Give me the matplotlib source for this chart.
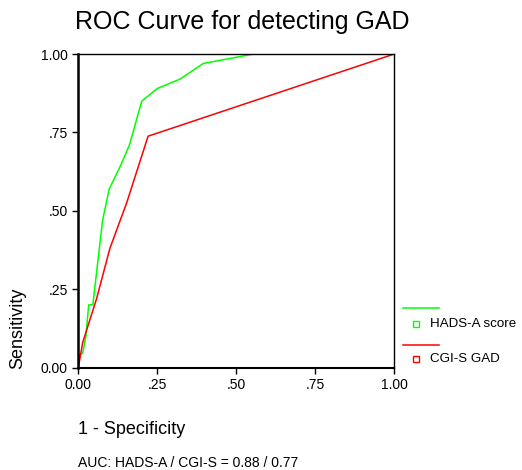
import matplotlib
matplotlib.use("Agg")
from matplotlib import pyplot as plt
from matplotlib.lines import Line2D

plt.rcParams["font.family"] = ["Liberation Sans", "DejaVu Sans"]

# ROC points
hads_fpr = [0.0, 0.003, 0.014, 0.024, 0.033, 0.046, 0.062, 0.077, 0.098,
            0.132, 0.162, 0.201, 0.250, 0.322, 0.396, 0.544, 0.56, 1.0]
hads_tpr = [0.0, 0.04, 0.046, 0.10, 0.20, 0.20, 0.34, 0.47, 0.57,
            0.64, 0.71, 0.85, 0.89, 0.92, 0.97, 0.998, 1.0, 1.0]
cgi_fpr = [0.0, 0.014, 0.058, 0.100, 0.153, 0.221, 1.0]
cgi_tpr = [0.0, 0.08, 0.22, 0.38, 0.525, 0.738, 1.0]

series_names = ["HADS-A score", "CGI-S GAD"]
series_colors = ["#00ff00", "#ff0000"]
tick_vals = [0.0, 0.25, 0.5, 0.75, 1.0]
tick_labels = ["0.00", ".25", ".50", ".75", "1.00"]
auc_text = "AUC: HADS-A / CGI-S = 0.88 / 0.77"

fig = plt.figure(figsize=(5.22, 4.70), dpi=100)
ax = fig.add_axes([0.150, 0.218, 0.605, 0.667])

ax.plot(hads_fpr, hads_tpr, color=series_colors[0], lw=1.1)
ax.plot(cgi_fpr, cgi_tpr, color=series_colors[1], lw=1.1)

ax.set_xlim(0, 1)
ax.set_ylim(0, 1)
ax.set_xticks(tick_vals)
ax.set_xticklabels(tick_labels)
ax.set_yticks(tick_vals)
ax.set_yticklabels(tick_labels)
ax.tick_params(direction="out", length=4, width=1, labelsize=10, colors="black")
for s in ax.spines.values():
    s.set_color("black")
    s.set_linewidth(1.0)
ax.spines["left"].set_linewidth(1.8)
ax.spines["bottom"].set_linewidth(1.5)

fig.text(75 / 522, 1 - 22 / 470, "ROC Curve for detecting GAD", fontsize=18,
         ha="left", va="center")
fig.text(18 / 522, 1 - 328 / 470, "Sensitivity", fontsize=13, rotation=90,
         ha="center", va="center")
fig.text(78 / 522, 1 - 429 / 470, "1 - Specificity", fontsize=13,
         ha="left", va="center")
fig.text(78 / 522, 1 - 463 / 470, auc_text, fontsize=10, ha="left", va="center")

# SPSS style legend: line on one row, marker + name on the next
for i, (name, col) in enumerate(zip(series_names, series_colors)):
    y_line = 1 - (308 + i * 37) / 470
    y_item = 1 - (324 + i * 35) / 470
    fig.add_artist(Line2D([403 / 522, 439 / 522], [y_line, y_line],
                          color=col, lw=1.1))
    fig.add_artist(Line2D([416 / 522], [y_item], marker="s", ms=5,
                          mfc="white", mec=col, mew=1.0, ls="none"))
    fig.text(430 / 522, y_item, name, fontsize=9.6, ha="left", va="center")

fig.savefig("out.png", dpi=100)
